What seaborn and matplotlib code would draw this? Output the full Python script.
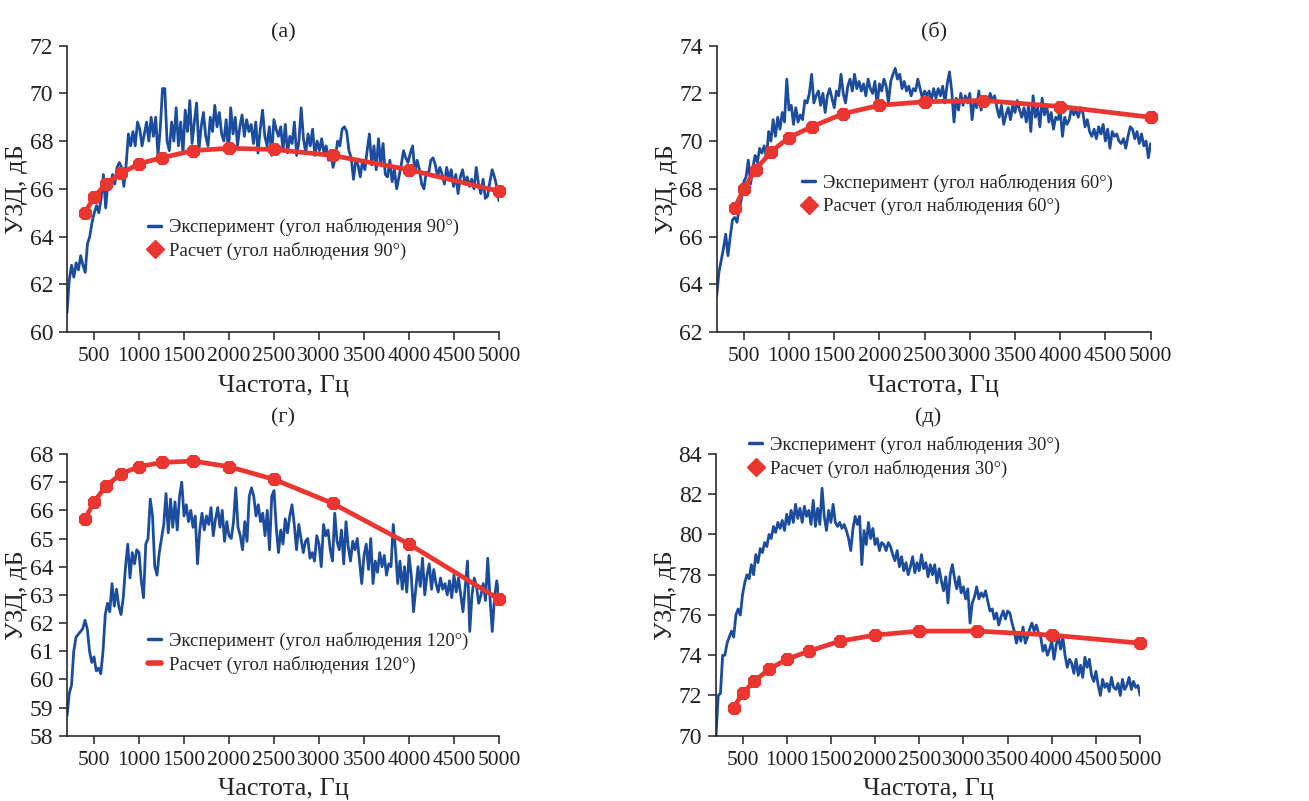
import numpy as np
import matplotlib
matplotlib.use("Agg")
import matplotlib.pyplot as plt
from matplotlib.lines import Line2D
import seaborn as sns

# расчетные точки (1/3 октавы)
freq_calc = [400, 500, 630, 800, 1000, 1250, 1600, 2000, 2500, 3150, 4000, 5000]

calc_90 = [65.0, 65.65, 66.2, 66.65, 67.05, 67.3, 67.6, 67.7, 67.65, 67.4, 66.8, 65.9]
calc_60 = [67.2, 68.0, 68.8, 69.55, 70.15, 70.6, 71.15, 71.5, 71.65, 71.7, 71.45, 71.0]
calc_120 = [65.7, 66.3, 66.85, 67.3, 67.55, 67.7, 67.75, 67.55, 67.1, 66.25, 64.8, 62.85]
calc_30 = [71.4, 72.1, 72.7, 73.3, 73.8, 74.2, 74.7, 75.0, 75.2, 75.2, 75.0, 74.6]

# эксперимент, шаг ~25 Гц от 200 до 5000 Гц
exp_90 = [
    60.8, 62.2, 62.8, 62.3, 62.9, 62.6, 63.2, 62.8, 62.5, 63.7, 64.0, 64.6, 65.0, 65.3, 65.0, 65.6,
    66.6, 65.2, 66.3, 66.0, 66.6, 66.2, 66.9, 67.1, 66.9, 66.1, 67.0, 68.3, 67.8, 68.4, 67.8, 68.8,
    68.5, 67.8, 68.3, 68.8, 68.0, 69.0, 68.2, 69.0, 67.4, 68.5, 70.2, 70.2, 68.0, 67.6, 68.8, 68.0,
    69.4, 67.8, 68.8, 67.5, 69.3, 68.4, 69.7, 67.9, 68.8, 69.6, 67.6, 68.6, 69.2, 68.2, 67.8, 69.0,
    68.4, 69.5, 68.6, 69.2, 68.3, 68.0, 68.9, 67.5, 69.4, 68.3, 69.0, 67.8, 68.6, 69.1, 68.2, 68.9,
    68.4, 68.7, 67.9, 68.8, 67.5, 68.5, 69.3, 68.2, 67.8, 68.6, 67.4, 68.9, 68.5, 68.2, 68.6, 67.6,
    68.7, 67.5, 68.2, 67.9, 68.8, 67.4, 68.0, 69.4, 68.1, 67.5, 68.3, 67.8, 68.5, 67.4, 68.0, 67.6,
    68.1, 67.5, 67.8, 67.2, 67.6, 66.9, 67.3, 68.0, 67.8, 68.5, 68.6, 68.4, 67.6, 67.3, 66.4, 67.2,
    67.0, 66.5, 67.2, 66.8, 67.6, 68.3, 67.0, 67.8, 66.8, 68.1, 67.0, 67.9, 66.6, 66.5, 67.2, 66.3,
    66.8, 66.0, 66.5, 67.0, 67.6, 67.3, 67.1, 67.5, 67.8, 66.7, 67.2, 66.8, 66.2, 66.0, 66.7, 66.6,
    67.2, 67.3, 67.0, 66.5, 66.9, 66.6, 66.2, 66.9, 66.4, 66.8, 66.1, 66.6, 65.8, 66.5, 66.8, 66.2,
    66.5, 66.1, 66.4, 66.0, 66.9, 66.2, 65.8, 66.4, 65.6, 65.7, 66.3, 66.8, 66.5, 66.1, 65.5,
]

exp_60 = [
    63.5, 64.5, 65.0, 65.5, 66.1, 65.2, 66.0, 66.7, 66.8, 66.6, 67.2, 67.6, 68.3, 68.5, 69.2, 68.2,
    68.9, 69.4, 69.1, 69.7, 69.5, 69.8, 69.3, 70.4, 70.0, 70.9, 70.2, 71.0, 70.5, 71.2, 70.8, 72.6,
    71.3, 71.5, 70.7, 71.4, 70.8, 71.1, 70.9, 71.7, 71.6, 72.0, 72.8, 71.6, 71.9, 72.1, 71.5, 72.0,
    71.2, 71.9, 72.2, 71.8, 71.4, 72.1, 71.9, 72.8, 72.0, 71.6, 72.3, 72.6, 72.1, 72.8, 72.2, 72.5,
    72.1, 72.4, 71.9, 72.6, 72.2, 72.0, 72.5, 71.5, 72.4, 72.1, 72.6, 72.3, 71.6, 72.5, 72.8, 73.05,
    72.6, 72.8, 72.2, 72.5, 72.1, 72.3, 71.9, 72.2, 72.1, 72.6, 72.2, 71.8, 72.1, 71.9, 72.1, 71.7,
    72.2, 71.8, 72.2, 71.9, 72.3, 71.6, 72.4, 72.9, 72.1, 70.8, 71.8, 71.3, 72.0, 71.5, 71.9, 71.6,
    72.0, 70.9, 71.7, 71.4, 72.1, 71.3, 71.8, 71.5, 71.6, 72.0, 71.7, 71.9, 71.4, 71.0, 71.5, 70.7,
    71.1, 71.4, 70.9, 71.5, 71.2, 71.7, 71.3, 71.0, 71.4, 70.8, 71.5, 70.4, 71.9, 71.0, 71.4, 70.6,
    71.8, 71.1, 71.5, 70.8, 71.2, 70.5, 71.0, 70.9, 71.3, 70.2, 71.0, 70.7, 70.9, 71.4, 71.1, 71.3,
    71.0, 71.4, 71.2, 70.6, 70.9, 70.4, 70.2, 70.5, 70.1, 70.6, 70.3, 70.7, 70.0, 70.5, 69.7, 70.4,
    70.2, 70.3, 70.0, 69.9, 70.1, 69.7, 70.2, 70.6, 70.5, 70.1, 70.4, 69.9, 70.3, 69.8, 70.0, 69.3,
    69.9,
]

exp_120 = [
    58.7, 59.5, 59.8, 61.0, 61.5, 61.6, 61.7, 61.8, 62.1, 61.8, 61.0, 60.6, 60.8, 60.3, 60.4, 60.2,
    61.0, 62.3, 62.7, 62.4, 63.4, 62.6, 63.2, 62.6, 62.3, 62.9, 64.0, 64.8, 63.6, 64.5, 64.1, 64.6,
    64.5, 63.5, 62.9, 64.8, 65.0, 66.4, 65.8, 64.0, 63.7, 64.5, 65.0, 65.5, 66.6, 65.2, 66.4, 65.4,
    66.3, 65.3, 66.5, 67.0, 65.8, 66.2, 65.6, 66.0, 65.4, 65.8, 64.1, 65.3, 65.9, 65.3, 65.8, 65.5,
    66.1, 65.1, 65.7, 66.1, 65.4, 66.0, 64.9, 65.6, 65.1, 65.0, 65.6, 66.8, 65.4, 65.1, 64.6, 65.6,
    64.9, 66.5, 66.8, 66.5, 65.8, 66.2, 65.6, 65.9, 65.1, 66.0, 64.6, 66.5, 66.7, 65.4, 64.5, 65.3,
    64.8, 65.7, 65.2, 65.8, 66.2, 65.5, 64.6, 65.5, 65.0, 64.5, 64.9, 65.0, 64.3, 64.5, 64.2, 65.1,
    64.8, 64.0, 65.5, 65.1, 65.3, 64.6, 64.2, 65.9, 64.9, 64.6, 65.3, 64.1, 65.6, 64.7, 64.2, 64.9,
    64.6, 65.0, 64.2, 63.4, 64.4, 64.8, 63.9, 65.0, 63.4, 64.2, 63.8, 64.5, 64.0, 64.4, 63.7, 64.1,
    64.0, 65.5, 64.6, 63.4, 64.2, 63.2, 64.0, 63.1, 64.4, 63.7, 62.4, 63.2, 64.0, 63.3, 64.3, 63.0,
    63.7, 64.1, 63.2, 63.9, 63.4, 63.1, 63.6, 63.2, 63.4, 63.0, 63.5, 62.9, 63.7, 63.1, 63.6, 63.0,
    62.4, 63.3, 64.2, 61.7, 63.0, 63.6, 63.3, 62.7, 63.0, 63.4, 62.8, 64.3, 62.9, 61.7, 62.9, 63.5,
    62.9,
]

exp_30 = [
    70.0, 72.0, 72.1, 74.0, 74.0, 74.6, 74.9, 75.2, 74.9, 76.0, 76.3, 76.0, 77.0, 77.6, 78.0, 77.8,
    78.5, 78.0, 79.0, 78.6, 79.3, 79.1, 79.6, 79.4, 80.0, 79.8, 80.4, 80.1, 80.6, 80.3, 80.7, 80.2,
    81.0, 80.5, 81.2, 80.6, 81.5, 80.8, 81.3, 80.6, 81.4, 80.9, 81.2, 80.5, 81.7, 80.4, 81.3, 80.5,
    82.3, 80.9, 80.2, 81.2, 80.6, 81.5, 80.6, 80.4, 80.6, 80.3, 80.5, 80.2, 79.8, 79.2, 80.3, 80.9,
    80.5, 80.9, 78.5, 80.2, 79.5, 80.6, 79.8, 80.3, 79.5, 79.8, 79.2, 79.6, 79.5, 79.2, 79.6, 79.4,
    79.0, 78.7, 79.2, 78.4, 78.9, 78.2, 78.6, 78.0, 78.4, 78.9, 78.1, 78.6, 78.2, 79.0, 78.3, 78.6,
    77.9, 78.5, 78.0, 78.5, 77.6, 78.3, 77.7, 77.2, 77.9, 76.6, 78.0, 78.5, 77.8, 77.3, 77.9, 77.1,
    77.4, 76.8, 77.3, 75.6, 76.6, 76.9, 77.4, 76.8, 77.1, 76.9, 77.2, 76.7, 76.2, 76.3, 75.8, 76.1,
    75.5, 75.9, 76.2, 75.8, 76.2, 76.1, 75.6, 75.2, 74.6, 75.1, 74.7, 75.4, 74.6, 74.9, 75.3, 75.6,
    75.2, 75.5, 75.1, 74.9, 74.2, 74.5, 74.0, 74.3, 74.7, 73.8, 74.5, 74.9, 74.3, 74.9, 74.0, 73.4,
    73.8, 73.6, 73.1, 73.8, 73.0, 73.5, 72.9, 73.9, 73.4, 73.8, 73.0, 72.7, 73.2, 72.5, 72.0, 72.8,
    72.4, 72.6, 72.2, 72.9, 72.4, 72.3, 72.6, 72.0, 72.8, 72.3, 72.5, 72.9, 72.3, 72.7, 72.4, 72.5,
    72.0,
]

panels = [
    ("(а)", exp_90, calc_90, "90°", (60, 72), [60, 62, 64, 66, 68, 70, 72]),
    ("(б)", exp_60, calc_60, "60°", (62, 74), [62, 64, 66, 68, 70, 72, 74]),
    ("(г)", exp_120, calc_120, "120°", (58, 68), list(range(58, 69))),
    ("(д)", exp_30, calc_30, "30°", (70, 84), [70, 72, 74, 76, 78, 80, 82, 84]),
]

# положение осей в долях фигуры
axes_pos = [
    [0.0512, 0.5855, 0.330, 0.3575],
    [0.5475, 0.5855, 0.3315, 0.3575],
    [0.0512, 0.0815, 0.330, 0.3517],
    [0.5470, 0.0815, 0.3240, 0.3517],
]
title_pad = [6, 6, 23, 23]
legend_anchor = [(0.17, 0.325), (0.18, 0.48), (0.17, 0.294), (0.06, 0.99)]
red_handle_marker = [True, True, False, True]

BLUE = "#1b4c9e"
RED = "#ea3530"

sns.set_theme(style="ticks")
plt.rcParams["font.family"] = ["Liberation Serif", "DejaVu Serif"]
plt.rcParams["axes.linewidth"] = 1.2
plt.rcParams["axes.edgecolor"] = "#2a2a2a"

fig = plt.figure(figsize=(13.09, 8.01), dpi=100)
xticks = list(range(500, 5001, 500))

for i, (title, exp, calc, angle, ylim, yticks) in enumerate(panels):
    ax = fig.add_axes(axes_pos[i])
    f_exp = np.linspace(200, 5000, len(exp))
    sns.lineplot(x=f_exp, y=exp, ax=ax, color=BLUE, lw=2.0, zorder=2)
    sns.lineplot(x=freq_calc, y=calc, ax=ax, color=RED, lw=3.4, marker="8",
                 markersize=10, markeredgecolor=RED, zorder=3, clip_on=False)
    ax.set_xlim(200, 5000)
    ax.set_ylim(*ylim)
    ax.set_xticks(xticks)
    ax.set_yticks(yticks)
    ax.tick_params(axis="x", labelsize=15.5, pad=5)
    ax.tick_params(axis="y", labelsize=17, pad=4)
    ax.tick_params(axis="both", direction="out", length=6, width=1.1, colors="#222222")
    sns.despine(ax=ax)
    ax.set_xlabel("Частота, Гц", fontsize=19, labelpad=6)
    ax.set_ylabel("УЗД, дБ", fontsize=19, labelpad=1)
    ax.set_title(title, fontsize=16, pad=title_pad[i])

    if red_handle_marker[i]:
        red_h = Line2D([], [], color=RED, lw=0, marker="D", markersize=9)
    else:
        red_h = Line2D([], [], color=RED, lw=4)
    blue_h = Line2D([], [], color=BLUE, lw=2.5)
    ax.legend([blue_h, red_h],
              [f"Эксперимент (угол наблюдения {angle})", f"Расчет (угол наблюдения {angle})"],
              loc="center left", bbox_to_anchor=legend_anchor[i], frameon=False,
              fontsize=13.5, handlelength=0.7, handletextpad=0.4, labelspacing=0.3,
              borderaxespad=0)

fig.savefig("out.png", dpi=100)
